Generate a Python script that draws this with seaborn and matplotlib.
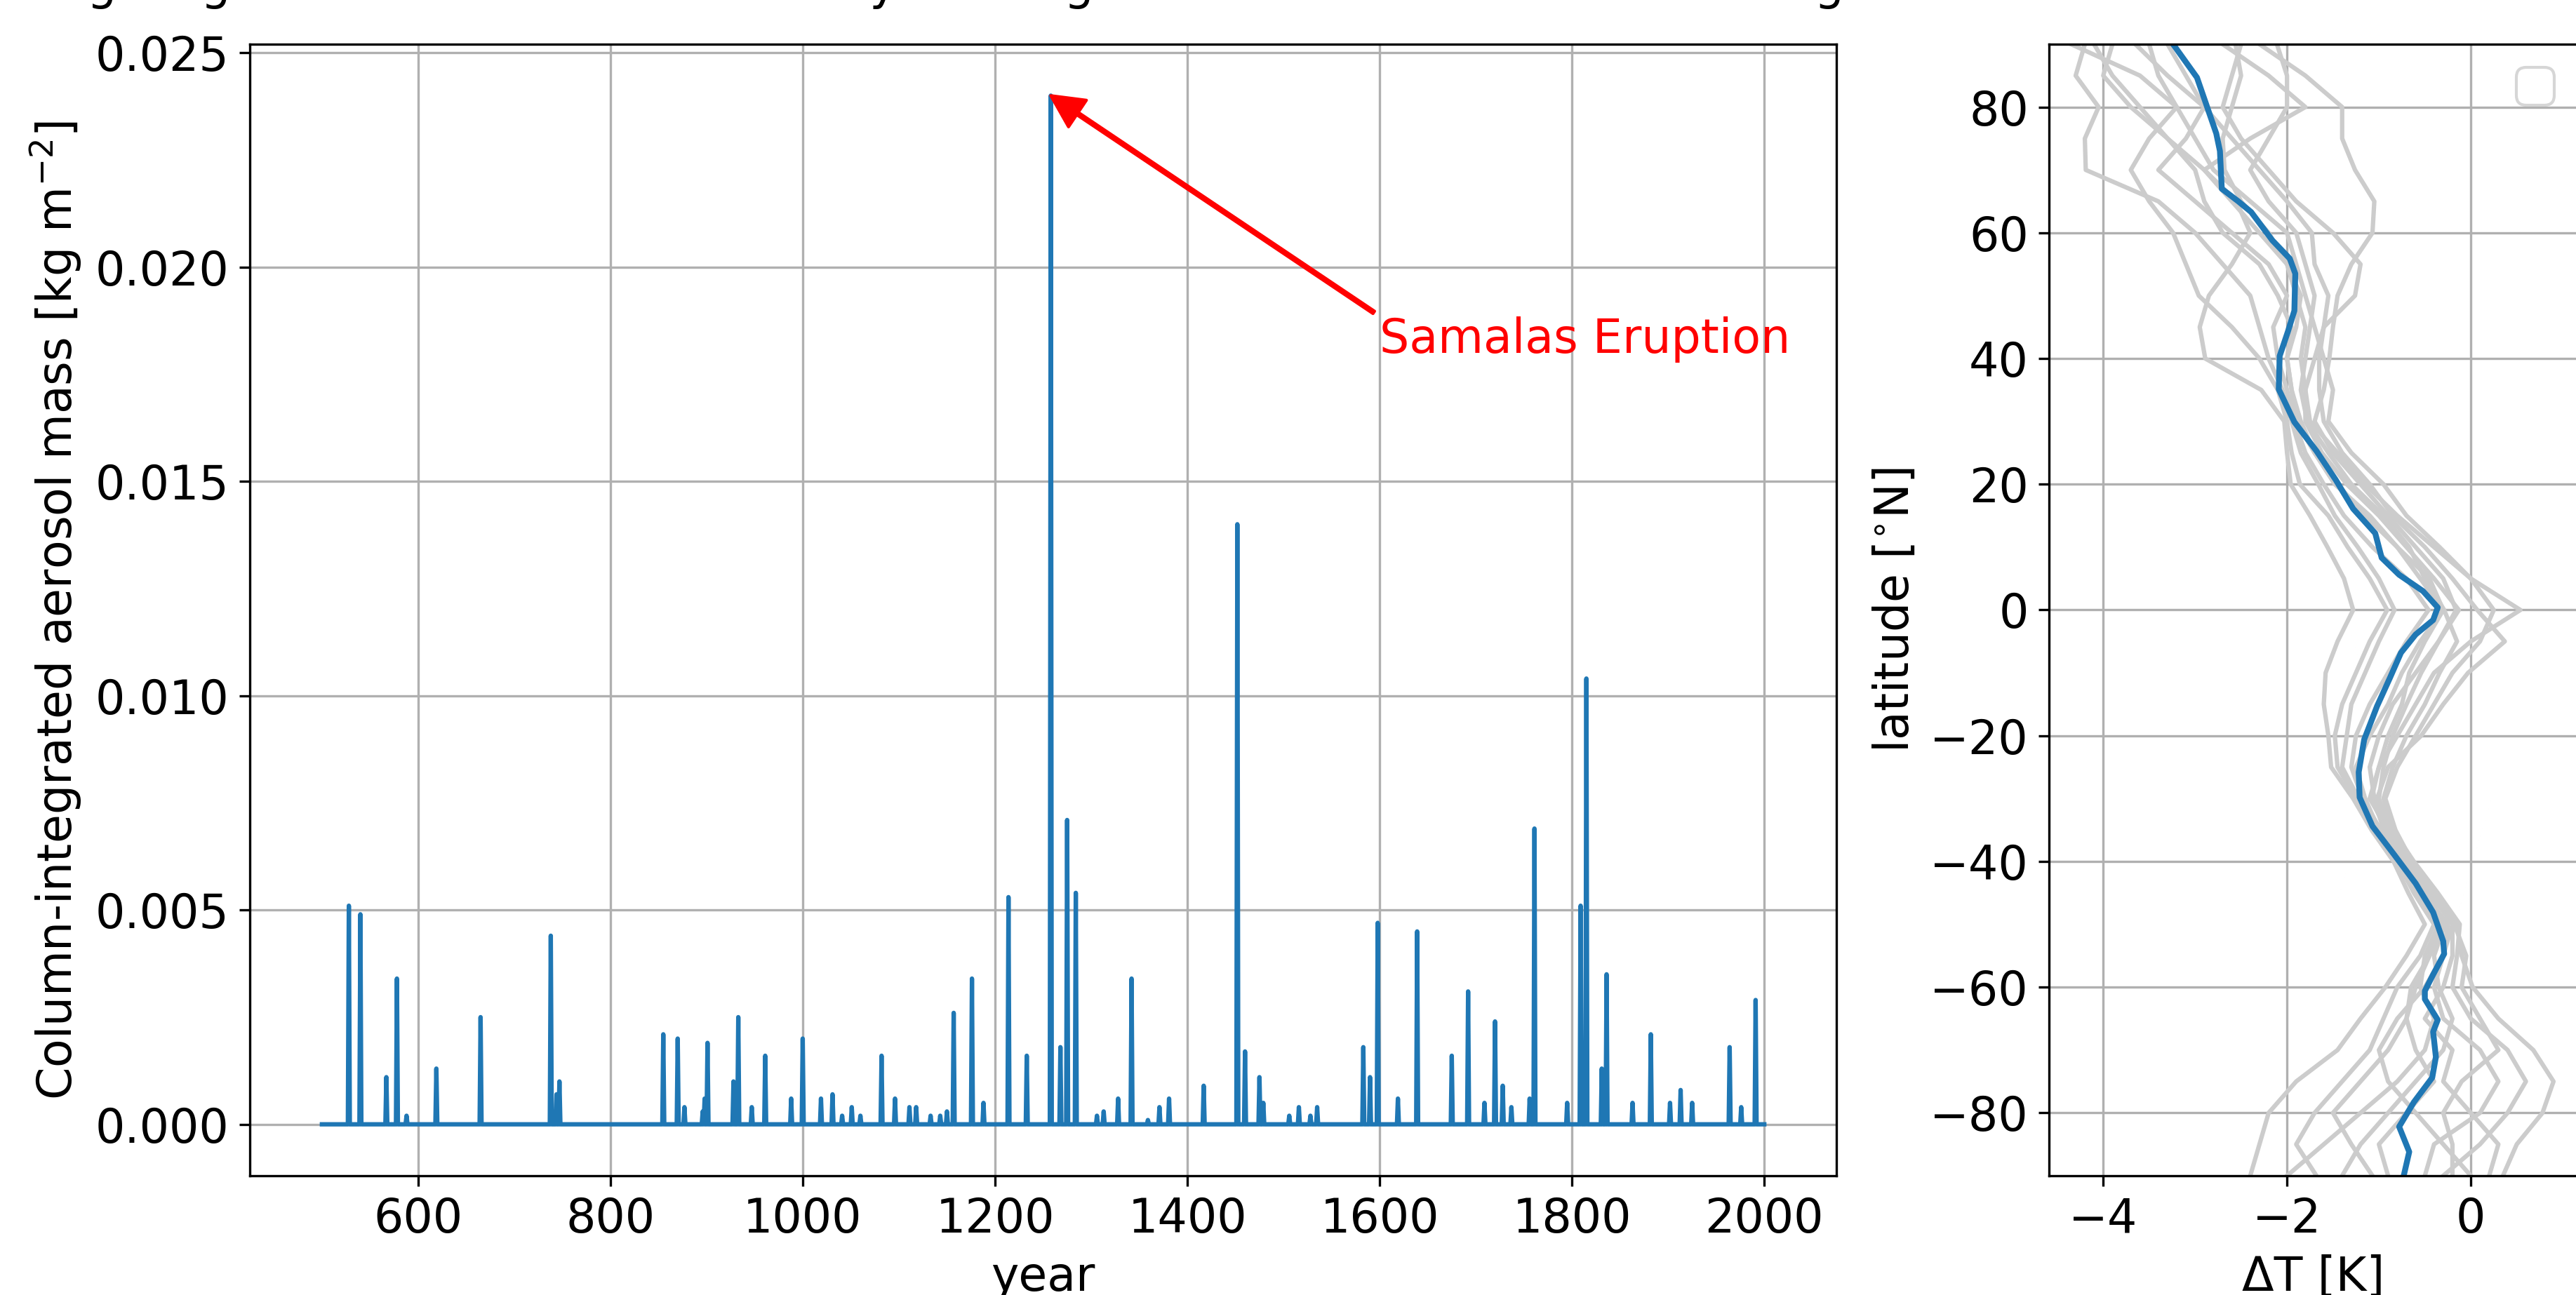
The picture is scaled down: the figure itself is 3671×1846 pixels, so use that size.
import warnings
import numpy as np
import pandas as pd
import matplotlib
matplotlib.use("Agg")
import matplotlib.pyplot as plt
import seaborn as sns

# ---------------- data: volcanic aerosol time series ----------------
eruption_years = [528, 540, 567, 578, 588, 619, 665, 738, 744, 747, 855, 870, 877,
                  896, 898, 901, 928, 933, 947, 961, 988, 1000, 1019, 1031, 1041,
                  1051, 1060, 1082, 1096, 1111, 1118, 1133, 1143, 1150, 1157, 1176,
                  1188, 1214, 1233, 1258, 1268, 1275, 1284, 1306, 1313, 1328, 1342,
                  1359, 1371, 1381, 1417, 1452, 1460, 1475, 1479, 1506, 1516, 1528,
                  1535, 1583, 1590, 1598, 1619, 1639, 1675, 1692, 1709, 1720, 1728,
                  1737, 1756, 1761, 1795, 1809, 1815, 1831, 1836, 1863, 1882, 1902,
                  1913, 1925, 1964, 1976, 1991]
eruption_mass = [0.0051, 0.0049, 0.0011, 0.0034, 0.0002, 0.0013, 0.0025, 0.0044, 0.0007,
                 0.0010, 0.0021, 0.0020, 0.0004, 0.0003, 0.0006, 0.0019, 0.0010, 0.0025,
                 0.0004, 0.0016, 0.0006, 0.0020, 0.0006, 0.0007, 0.0002, 0.0004, 0.0002,
                 0.0016, 0.0006, 0.0004, 0.0004, 0.0002, 0.0002, 0.0003, 0.0026, 0.0034,
                 0.0005, 0.0053, 0.0016, 0.0240, 0.0018, 0.0071, 0.0054, 0.0002, 0.0003,
                 0.0006, 0.0034, 0.0001, 0.0004, 0.0006, 0.0009, 0.0140, 0.0017, 0.0011,
                 0.0005, 0.0002, 0.0004, 0.0002, 0.0004, 0.0018, 0.0011, 0.0047, 0.0006,
                 0.0045, 0.0016, 0.0031, 0.0005, 0.0024, 0.0009, 0.0004, 0.0006, 0.0069,
                 0.0005, 0.0051, 0.0104, 0.0013, 0.0035, 0.0005, 0.0021, 0.0005, 0.0008,
                 0.0005, 0.0018, 0.0004, 0.0029]
year_start, year_end = 500, 2000

# ---------------- data: zonal-mean temperature response ----------------
mean_lat = [90, 84.7, 75.8, 73, 67, 65, 63.3, 58.8, 55.9, 53.5, 47.6, 44.3, 40.4, 35.1,
            29.9, 25.3, 20.7, 16.1, 12.2, 8.3, 5.6, 3, 0.4, -1.6, -3.9, -6.8, -10.8,
            -15.3, -20.6, -25.8, -29.8, -34.4, -39, -43.5, -48.1, -52.7, -54.7, -58,
            -60.6, -61.9, -65.2, -67.1, -71.1, -74.4, -78.3, -82.2, -86.2, -90]
mean_dT = [-3.24, -2.98, -2.77, -2.73, -2.71, -2.53, -2.39, -2.16, -1.97, -1.91, -1.92,
           -1.99, -2.08, -2.09, -1.92, -1.68, -1.47, -1.28, -1.04, -0.97, -0.78, -0.52,
           -0.36, -0.41, -0.60, -0.76, -0.88, -1.02, -1.16, -1.22, -1.21, -1.07, -0.83,
           -0.60, -0.41, -0.30, -0.29, -0.41, -0.50, -0.50, -0.36, -0.41, -0.38, -0.42,
           -0.62, -0.78, -0.67, -0.73]

member_lat = [-90, -85, -80, -75, -70, -65, -60, -55, -50, -45, -40, -35, -30, -25, -20,
              -15, -10, -5, 0, 5, 10, 15, 20, 25, 30, 35, 40, 45, 50, 55, 60, 65, 70,
              75, 80, 85, 90]
member_01 = [-2.40, -2.30, -2.20, -1.90, -1.45, -1.20, -0.93, -0.70, -0.50, -0.68, -0.84, -1.08, -1.28, -1.52, -1.55, -1.60, -1.58, -1.45, -1.28, -1.38, -1.56, -1.75, -1.96, -2.00, -2.03, -2.28, -2.89, -2.95, -2.85, -2.60, -2.40, -2.55, -2.90, -3.30, -3.60, -3.90, -4.10]
member_02 = [-1.68, -1.90, -1.70, -1.40, -1.10, -0.95, -0.80, -0.55, -0.40, -0.62, -0.80, -1.05, -1.25, -1.45, -1.48, -1.40, -1.25, -1.10, -0.91, -1.10, -1.34, -1.55, -1.86, -1.95, -2.00, -2.10, -2.30, -2.60, -2.96, -3.10, -3.24, -3.50, -3.70, -3.50, -3.20, -3.60, -4.35]
member_03 = [-1.07, -1.30, -1.50, -1.20, -0.90, -0.70, -0.60, -0.45, -0.35, -0.58, -0.78, -1.02, -1.22, -1.40, -1.35, -1.30, -1.15, -1.00, -0.83, -1.00, -1.23, -1.48, -1.66, -1.85, -1.95, -2.05, -2.20, -2.30, -2.40, -2.70, -3.00, -3.40, -4.19, -4.20, -4.05, -4.30, -4.20]
member_04 = [0.00, -0.30, -0.60, -0.90, -1.00, -0.80, -0.50, -0.30, -0.25, -0.52, -0.74, -0.98, -1.18, -1.30, -1.25, -1.10, -0.90, -0.70, -0.46, -0.70, -1.07, -1.38, -1.60, -1.80, -1.92, -2.00, -2.10, -2.15, -2.00, -2.20, -2.60, -3.00, -3.40, -3.10, -2.90, -3.30, -3.65]
member_05 = [0.35, 0.50, 0.78, 0.90, 0.68, 0.30, 0.02, -0.10, -0.15, -0.40, -0.66, -0.90, -1.10, -1.00, -0.90, -0.75, -0.67, -0.50, -0.30, -0.55, -0.80, -1.10, -1.48, -1.70, -1.85, -1.95, -2.00, -1.90, -1.85, -2.00, -2.20, -2.50, -2.68, -2.70, -2.60, -2.50, -2.56]
member_06 = [-0.30, 0.10, 0.40, 0.60, 0.40, 0.00, -0.20, -0.15, -0.12, -0.36, -0.62, -0.85, -0.95, -0.85, -0.70, -0.50, -0.34, -0.15, -0.29, -0.50, -0.67, -0.95, -1.30, -1.55, -1.78, -1.85, -1.80, -1.75, -1.70, -1.80, -1.90, -2.20, -2.40, -2.20, -2.00, -2.00, -2.11]
member_07 = [-0.50, -0.40, 0.10, 0.30, 0.10, -0.30, -0.40, -0.30, -0.20, -0.42, -0.68, -0.88, -1.00, -0.95, -0.85, -0.70, -0.54, -0.35, -0.16, -0.30, -0.60, -0.90, -1.20, -1.50, -1.70, -1.60, -1.54, -1.50, -1.45, -1.30, -1.07, -1.05, -1.26, -1.40, -1.40, -1.80, -2.30]
member_08 = [-0.90, -1.00, -0.70, -0.40, -0.60, -0.70, -0.65, -0.45, -0.30, -0.50, -0.72, -0.95, -1.05, -1.10, -1.00, -0.85, -0.60, -0.35, -0.13, -0.40, -0.70, -1.00, -1.35, -1.62, -1.80, -1.80, -1.70, -1.60, -1.26, -1.20, -1.50, -1.90, -2.20, -2.50, -2.70, -2.60, -2.50]
member_09 = [0.20, 0.30, 0.00, -0.30, -0.20, -0.50, -0.30, -0.20, -0.20, -0.45, -0.70, -0.92, -1.02, -0.90, -0.54, -0.30, -0.03, 0.37, 0.07, -0.20, -0.50, -0.85, -1.10, -1.40, -1.60, -1.65, -1.65, -1.60, -1.55, -1.70, -1.73, -2.00, -2.30, -2.60, -2.90, -3.10, -3.30]
member_10 = [-0.20, -0.20, -0.30, -0.10, 0.30, 0.10, -0.10, -0.05, -0.18, -0.40, -0.64, -0.82, -0.93, -0.80, -0.60, -0.40, -0.20, 0.10, 0.25, 0.00, -0.34, -0.70, -0.95, -1.30, -1.55, -1.50, -1.60, -1.70, -1.80, -1.90, -2.00, -2.40, -2.80, -3.00, -3.20, -3.40, -3.50]
member_11 = [-2.00, -1.60, -1.20, -0.80, -0.50, -0.40, -0.55, -0.50, -0.35, -0.55, -0.76, -1.00, -1.15, -1.25, -1.10, -0.90, -0.75, -0.55, -0.30, -0.45, -0.80, -1.15, -1.45, -1.70, -1.90, -1.95, -2.00, -1.95, -2.10, -2.30, -2.70, -2.90, -3.00, -3.30, -3.70, -4.00, -3.90]
member_12 = [-1.40, -1.20, -0.90, -0.60, -0.30, -0.20, -0.35, -0.40, -0.28, -0.48, -0.70, -0.93, -1.08, -1.00, -0.80, -0.60, -0.40, 0.00, 0.54, 0.00, -0.40, -0.80, -1.15, -1.45, -1.75, -1.80, -1.85, -1.80, -1.90, -2.00, -2.30, -2.60, -2.90, -2.40, -1.80, -2.20, -2.70]
members = [member_01, member_02, member_03, member_04, member_05, member_06,
           member_07, member_08, member_09, member_10, member_11, member_12]

title_text = "Using all global volcanic aerosol data yields a great zonal mean surface cooling"
annotation_text = "Samalas Eruption"
annotation_point = (1258, 0.024)
annotation_text_pos = (1600, 0.018)

# ---------------- build tables ----------------
years = np.arange(year_start, year_end + 1)
mass = np.zeros(len(years))
for y, m in zip(eruption_years, eruption_mass):
    mass[y - year_start] = max(mass[y - year_start], m)
aerosol_df = pd.DataFrame({"year": years, "mass": mass})

# ---------------- figure ----------------
plt.rcParams["font.family"] = ["DejaVu Sans"]
plt.rcParams["font.size"] = 16
plt.rcParams["axes.unicode_minus"] = True

W, H, DPI = 3671, 1846, 300
fig = plt.figure(figsize=(W / DPI, H / DPI), dpi=DPI)
ax1 = fig.add_axes([356 / W, 1 - 1676 / H, (2617 - 356) / W, (1676 - 63) / H])
ax2 = fig.add_axes([2920 / W, 1 - 1676 / H, (3673 - 2920) / W, (1676 - 63) / H])

sns.lineplot(data=aerosol_df, x="year", y="mass", ax=ax1, color="#1f77b4",
             linewidth=1.5, estimator=None, errorbar=None, legend=False)
ax1.set_xlabel("year")
ax1.set_ylabel(r"Column-integrated aerosol mass [kg m$^{-2}$]")
ax1.grid(True, color="#b0b0b0", linewidth=0.8)
ax1.set_axisbelow(True)
ax1.annotate(annotation_text, xy=annotation_point, xytext=annotation_text_pos,
             color="red", fontsize=16,
             arrowprops=dict(facecolor="red", edgecolor="red", width=1,
                             headwidth=11, headlength=11))

for mem in members:
    sns.lineplot(x=mem, y=member_lat, ax=ax2, color="0.8", linewidth=1.5,
                 sort=False, estimator=None, errorbar=None, legend=False)
sns.lineplot(x=mean_dT, y=mean_lat, ax=ax2, color="#1f77b4", linewidth=2.0,
             sort=False, estimator=None, errorbar=None, legend=False)
ax2.set_ylim(-90, 90)
ax2.set_xlim(-4.59, 1.16)
ax2.set_xticks([-4, -2, 0])
ax2.set_yticks([-80, -60, -40, -20, 0, 20, 40, 60, 80])
ax2.set_xlabel("ΔT [K]")
ax2.set_ylabel(r"latitude [$^{\circ}$N]")
ax2.grid(True, color="#b0b0b0", linewidth=0.8)
ax2.set_axisbelow(True)
with warnings.catch_warnings():
    warnings.simplefilter("ignore")
    ax2.legend(loc="upper right")

# title sits almost entirely above the top edge: only descenders show
fig.text(-20 / W, 1 + 1 / H, title_text, ha="left", va="baseline", fontsize=16)

fig.savefig("out.png", dpi=DPI)
